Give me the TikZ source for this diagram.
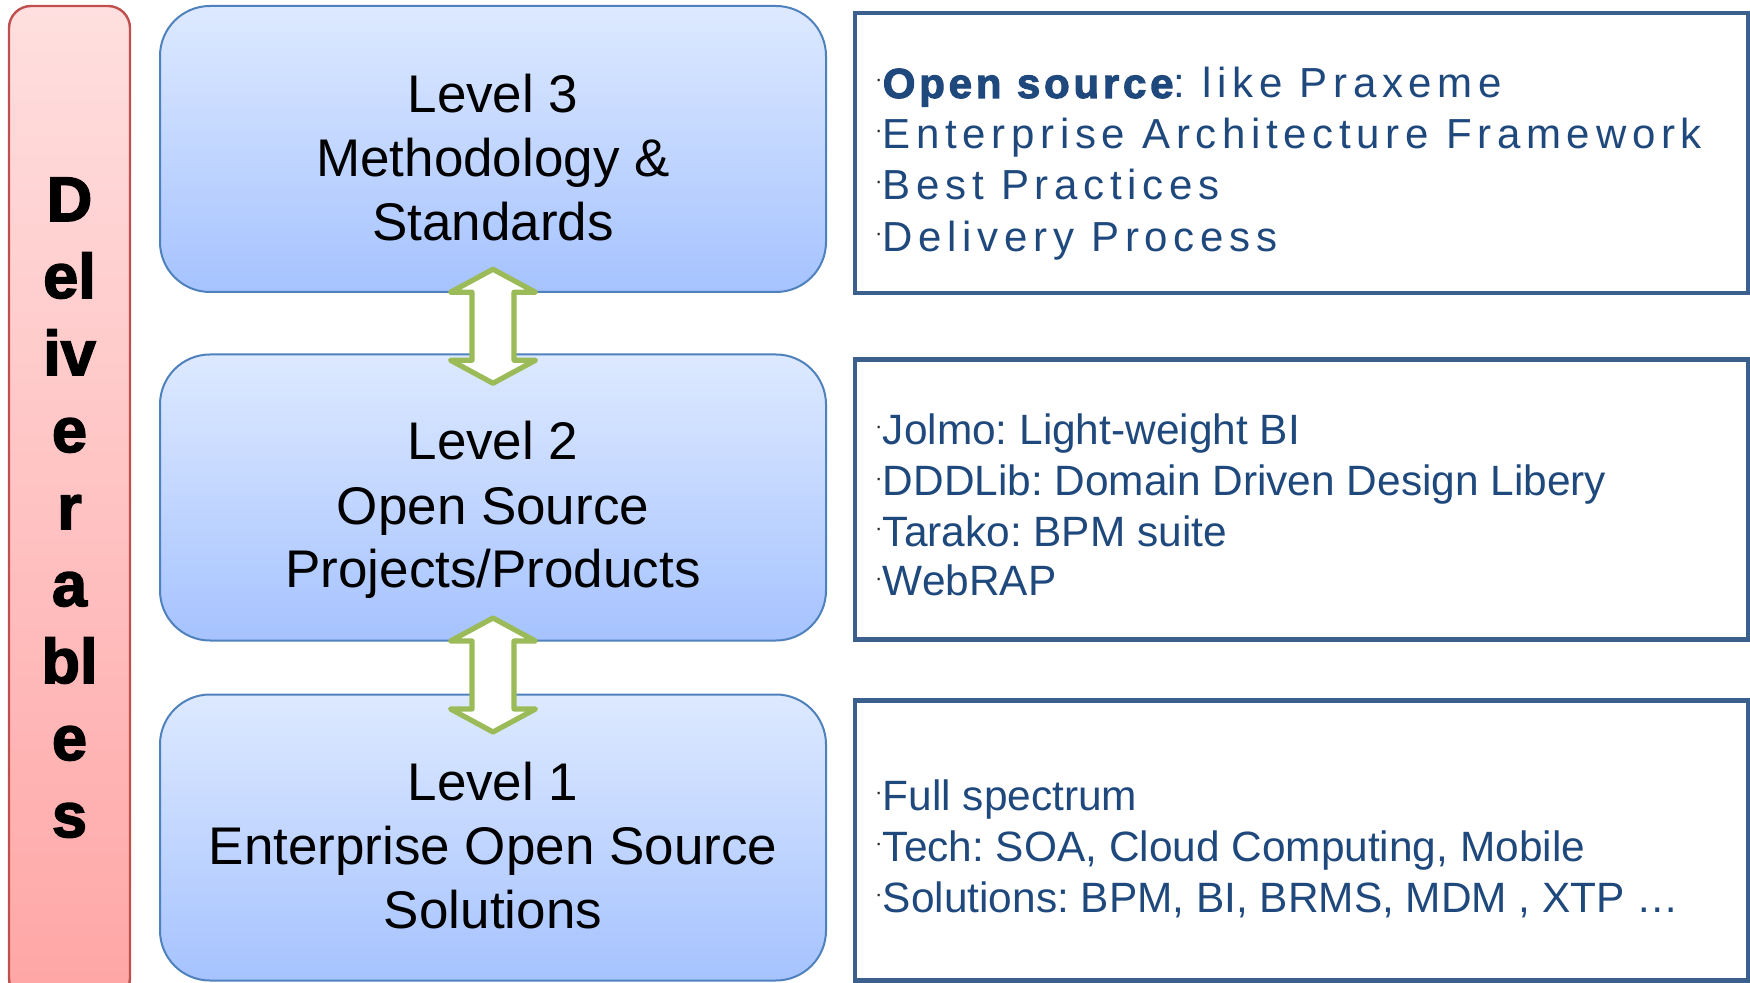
\documentclass[tikz,border=0pt]{standalone}
\usepackage{fontspec}
\setmainfont{Liberation Sans}
\newfontfamily\spacedfont[LetterSpace=13.5]{Liberation Sans}
\newfontfamily\heavyfont[LetterSpace=9, FakeBold=2.5]{Liberation Sans Bold}
\usetikzlibrary{calc}
\definecolor{txtblue}{RGB}{31,73,125}
\definecolor{boxline}{RGB}{60,96,142}
\definecolor{lvlline}{RGB}{79,129,189}
\definecolor{lvltop}{RGB}{221,233,255}
\definecolor{lvlbot}{RGB}{166,195,255}
\definecolor{deltop}{RGB}{255,223,223}
\definecolor{delbot}{RGB}{255,166,166}
\definecolor{delline}{RGB}{192,80,77}
\definecolor{arrgreen}{RGB}{155,187,89}
\newcommand\bdot{\makebox[3pt][r]{\raisebox{5.5pt}{\fontsize{11pt}{11pt}\selectfont\color{black!85}·}}\hspace{0.2pt}}
\frenchspacing
\tikzset{
  delbox/.style={draw=delline, line width=1.2pt, rounded corners=11pt, top color=deltop, bottom color=delbot, minimum width=60.5pt, minimum height=497pt, inner sep=0pt},
  deltext/.style={font=\fontsize{31.5pt}{31.5pt}\selectfont\bfseries\addfontfeature{FakeBold=2.5}, inner sep=0pt, anchor=base},
  lvlbox/.style={draw=lvlline, line width=1pt, rounded corners=25pt, top color=lvltop, bottom color=lvlbot, minimum width=333pt, minimum height=143pt, inner sep=0pt},
  lvltext/.style={font=\fontsize{26.5pt}{32pt}\selectfont, inner sep=0pt, anchor=base},
  infobox/.style={draw=boxline, line width=2.2pt, fill=white, minimum width=446.5pt, minimum height=140pt, inner sep=0pt},
  infotext/.style={font=\fontsize{21.2pt}{25pt}\selectfont, text=txtblue, inner sep=0pt, anchor=base west},
  spacedtext/.style={font=\spacedfont\fontsize{21pt}{25pt}\selectfont, text=txtblue, inner sep=0pt, anchor=base west},
  dblarrow/.style={draw=arrgreen, fill=white, line width=2.6pt, line join=round}
}
\begin{document}
\begin{tikzpicture}[x=0.5pt, y=-0.5pt]
\useasboundingbox (0,0) rectangle (1750,983);
% Deliverables bar
\node[delbox] (del) at (69.5,503) {};
\foreach \t [count=\i from 0] in {D,el,iv,e,r,a,bl,e,s}{
  \node[deltext] (d\i) at (69.5,{221+77*\i}) {\t};
}
% Level boxes
\node[lvlbox] (b3) at (493,149) {};
\node[lvlbox] (b2) at (493,497.5) {};
\node[lvlbox] (b1) at (493,837.5) {};
\node[lvltext] (b3a) at (493,113) {Level 3};
\node[lvltext] (b3b) at (493,177) {Methodology \&};
\node[lvltext] (b3c) at (493,241) {Standards};
\node[lvltext] (b2a) at (493,460) {Level 2};
\node[lvltext] (b2b) at (493,524) {Open Source};
\node[lvltext] (b2c) at (493,588) {Projects/Products};
\node[lvltext] (b1a) at (493,800) {Level 1};
\node[lvltext] (b1b) at (493,864) {Enterprise Open Source};
\node[lvltext] (b1c) at (493,928) {Solutions};
% double arrows
\coordinate (m1) at ($(b3.south)!0.5!(b2.north)+(0,3)$);
\coordinate (m2) at ($(b2.south)!0.5!(b1.north)+(0,7.5)$);
\foreach \m in {m1,m2}{
\draw[dblarrow, shift={(\m)}] (0,-57) -- ++(42.5,23) -- ++(-21.5,0) -- ++(0,68) -- ++(21.5,0) -- ++(-42.5,23) -- ++(-42.5,-23) -- ++(21.5,0) -- ++(0,-68) -- ++(-21.5,0) -- cycle;
}
% info boxes
\node[infobox] (i3) at (1301.5,153) {};
\node[infobox] (i2) at (1301.5,499.5) {};
\node[infobox] (i1) at (1301.5,840.5) {};
\node[spacedtext] (i3a) at (876,98) {\bdot{\heavyfont Open source}: like Praxeme};
\node[spacedtext] (i3b) at (876,149) {\bdot Enterprise Architecture Framework};
\node[spacedtext] (i3c) at (876,200) {\bdot Best Practices};
\node[spacedtext] (i3d) at (876,252) {\bdot Delivery Process};
\node[infotext] (i2a) at (876,445) {\bdot Jolmo: Light-weight BI};
\node[infotext] (i2b) at (876,496) {\bdot DDDLib: Domain Driven Design Libery};
\node[infotext] (i2c) at (876,546) {\bdot Tarako: BPM suite};
\node[infotext] (i2d) at (876,596) {\bdot WebRAP};
\node[infotext] (i1a) at (876,810) {\bdot Full spectrum};
\node[infotext] (i1b) at (876,861) {\bdot Tech: SOA, Cloud Computing, Mobile};
\node[infotext] (i1c) at (876,912) {\bdot Solutions: BPM, BI, BRMS, MDM , XTP \dots};
\end{tikzpicture}
\end{document}
